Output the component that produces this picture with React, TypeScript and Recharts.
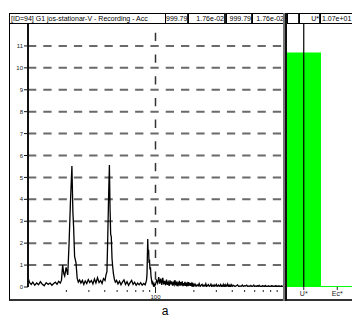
import { LineChart, Line, XAxis, YAxis, ReferenceLine, BarChart, Bar } from "recharts"

// spectrum segments, [frequency Hz, amplitude]
const lowNoise: [number, number][] = [
  [10.0, 0.42], [10.3, 0.2], [10.6, 0.12], [10.9, 0.22], [11.3, 0.08], [11.7, 0.18],
  [12.1, 0.1], [12.5, 0.24], [12.9, 0.14], [13.4, 0.06], [13.9, 0.2], [14.4, 0.12],
  [14.9, 0.18], [15.4, 0.08], [15.9, 0.16], [16.4, 0.22], [16.9, 0.12], [17.4, 0.26],
  [17.9, 0.18], [18.3, 0.3],
]
const firstPeak: [number, number][] = [
  [18.7, 1.0], [19.1, 0.6], [19.4, 0.5], [19.9, 0.9], [20.5, 0.55], [21.0, 2.0],
  [21.5, 3.8], [22.1, 5.52], [22.5, 3.4], [22.8, 2.7], [23.2, 1.4], [23.8, 1.1],
  [24.3, 0.4],
]
const midNoise1: [number, number][] = [
  [24.8, 0.22], [25.4, 0.32], [26.0, 0.18], [26.7, 0.3], [27.4, 0.12], [28.1, 0.28],
  [28.9, 0.16], [29.7, 0.34], [30.5, 0.2], [31.4, 0.3], [32.3, 0.14], [33.2, 0.36],
  [34.1, 0.18], [35.1, 0.42], [36.1, 0.2], [37.1, 0.3], [38.1, 0.16], [39.1, 0.38],
  [40.2, 0.3],
]
const secondPeak: [number, number][] = [
  [40.9, 0.55], [41.6, 0.7], [42.2, 2.2], [42.9, 4.2], [43.5, 5.57], [44.0, 3.6],
  [44.5, 2.4], [45.0, 2.3], [45.6, 1.3], [46.2, 0.9], [46.8, 0.6], [47.6, 0.35],
  [48.4, 0.22],
]
const midNoise2: [number, number][] = [
  [49.5, 0.3], [50.8, 0.14], [52.2, 0.26], [53.6, 0.1], [55.0, 0.22], [56.6, 0.32],
  [58.2, 0.12], [59.8, 0.24], [61.5, 0.08], [63.2, 0.2], [65.0, 0.3], [66.7, 0.12],
  [68.6, 0.22], [70.5, 0.08], [72.4, 0.18], [74.4, 0.1], [76.5, 0.2], [78.6, 0.08],
  [80.8, 0.16], [83.0, 0.1], [85.0, 0.3],
]
const thirdPeak: [number, number][] = [
  [85.8, 0.6], [86.9, 2.19], [87.6, 1.5], [88.3, 1.7], [89.0, 1.1], [89.7, 1.25],
  [90.5, 0.8], [91.3, 0.9], [92.2, 0.5], [93.2, 0.3], [94.2, 0.12], [95.2, 0.2],
  [96.3, 0.06], [97.4, 0.14], [98.5, 0.04], [99.6, 0.1],
]

// dense FFT bins above 100 Hz: start, bin width, amplitude per bin
const bandAStart = 100
const bandAStep = 2
const bandA = [
  0.12, 0.3, 0.18, 0.45, 0.15, 0.38, 0.1, 0.42, 0.12, 0.28, 0.08, 0.34, 0.1, 0.22, 0.05, 0.3,
  0.12, 0.26, 0.06, 0.2, 0.1, 0.32, 0.08, 0.25, 0.04, 0.18, 0.1, 0.28, 0.06, 0.22, 0.08, 0.26,
  0.04, 0.18, 0.07, 0.24, 0.05, 0.2, 0.08, 0.16, 0.04, 0.22, 0.06, 0.18, 0.05, 0.14, 0.03, 0.2,
  0.06, 0.12,
]
const bandBStart = 200
const bandBStep = 4
const bandB = [
  0.04, 0.14, 0.03, 0.1, 0.05, 0.16, 0.02, 0.08, 0.12, 0.03, 0.09, 0.04, 0.15, 0.02, 0.07, 0.11,
  0.03, 0.06, 0.13, 0.02, 0.08, 0.04, 0.1, 0.03, 0.07, 0.12, 0.02, 0.06, 0.09, 0.03, 0.05, 0.11,
  0.02, 0.07, 0.04, 0.12, 0.03, 0.08, 0.02, 0.1, 0.04, 0.06, 0.13, 0.02, 0.07, 0.03, 0.09, 0.02,
  0.06, 0.1,
]
const bandCStart = 400
const bandCStep = 10
const bandC = [
  0.03, 0.08, 0.02, 0.06, 0.1, 0.02, 0.05, 0.03, 0.09, 0.02, 0.06, 0.04, 0.08, 0.02, 0.05, 0.03,
  0.07, 0.02, 0.04, 0.09, 0.02, 0.05, 0.03, 0.06, 0.02, 0.08, 0.03, 0.04, 0.02, 0.06, 0.03, 0.05,
  0.02, 0.07, 0.03, 0.04, 0.02, 0.05, 0.03, 0.04, 0.02, 0.06, 0.03, 0.05, 0.02, 0.04, 0.03, 0.06,
  0.02, 0.05, 0.03, 0.04, 0.02, 0.06, 0.03, 0.04, 0.02, 0.05, 0.03, 0.04, 0.02,
]

const freqTicks = [20, 30, 40, 50, 60, 70, 80, 90, 100, 200, 300, 400, 500, 600, 700, 800, 900]
const ampTicks = [0, 1, 2, 3, 4, 5, 6, 7, 8, 9, 10, 11]
const gridLevels = [1, 2, 3, 4, 5, 6, 7, 8, 9, 10, 11]

// gauge panel on the right
const gaugeNames = ["U*", "Ec*"]
const gaugeValues = [10.7, 0.05]

// header strip
const titleText = "[ID=94] G1 jos-stationar-V - Recording - Acc"
const headerCells = [
  { left: 165, width: 24, text: "999.79" },
  { left: 188, width: 38, text: "1.76e-02" },
  { left: 226, width: 27, text: "999.79" },
  { left: 252, width: 34, text: "1.76e-02" },
  { left: 287, width: 13, text: "" },
  { left: 299, width: 22, text: "U*" },
  { left: 320, width: 40, text: "1.07e+01" },
]

const bandRows = (start: number, step: number, vals: number[]) =>
  vals.map((a, i) => ({ f: start + i * step, a }))

const spectrum = [
  ...[...lowNoise, ...firstPeak, ...midNoise1, ...secondPeak, ...midNoise2, ...thirdPeak].map(([f, a]) => ({ f, a })),
  ...bandRows(bandAStart, bandAStep, bandA),
  ...bandRows(bandBStart, bandBStep, bandB),
  ...bandRows(bandCStart, bandCStep, bandC),
]

const gauge = gaugeNames.map((name, i) => ({ name, v: gaugeValues[i] }))

const FONT = "'Liberation Sans', Arial, sans-serif"

function FreqTick(props: any) {
  const { x, y, payload } = props
  const major = payload.value === 100
  return (
    <g>
      <line x1={x} x2={x} y1={major ? y : y + 3} y2={y + (major ? 6 : 5)} stroke="#222" strokeWidth={1} />
      {major && (
        <text x={x} y={y + 12} textAnchor="middle" fontSize={6} fill="#222" fontFamily={FONT}>
          100
        </text>
      )}
    </g>
  )
}

export default function App() {
  return (
    <div style={{ position: "fixed", left: 0, top: 0, width: 352, height: 322, overflow: "hidden", background: "#fff", fontFamily: FONT, color: "#000" }}>
      {/* outer frame */}
      <div style={{ position: "absolute", left: 9, top: 13, width: 400, height: 288, boxSizing: "border-box", borderLeft: "1px solid #000", borderTop: "1px solid #000", borderBottom: "2px solid #333" }} />

      {/* header */}
      <div style={{ position: "absolute", left: 9, top: 13, width: 157, height: 11, boxSizing: "border-box", border: "1px solid #000", fontSize: 7, lineHeight: "9px", paddingLeft: 1, whiteSpace: "nowrap", overflow: "hidden", color: "#000" }}>
        {titleText}
      </div>
      {headerCells.map((c, i) => (
        <div key={i} style={{ position: "absolute", left: c.left, top: 13, width: c.width, height: 11, boxSizing: "border-box", border: "1px solid #000", borderRight: "2px solid #222", fontSize: 7, lineHeight: "9px", textAlign: i === 6 ? "left" : "right", paddingLeft: i === 6 ? 1 : 0, whiteSpace: "nowrap", overflow: "hidden", color: "#000" }}>
          {c.text}
        </div>
      ))}

      {/* spectrum */}
      <div style={{ position: "absolute", left: 9, top: 24 }}>
        <LineChart width={276} height={276} data={spectrum} margin={{ top: 0, right: 2, bottom: 0, left: 0 }}>
          <XAxis
            dataKey="f"
            type="number"
            scale="log"
            domain={[10, 1000]}
            allowDataOverflow
            ticks={freqTicks}
            interval={0}
            tick={FreqTick}
            tickLine={false}
            axisLine={false}
            tickSize={0}
            tickMargin={0}
            height={13}
          />
          <YAxis
            type="number"
            domain={[0, 12]}
            allowDataOverflow
            ticks={ampTicks}
            interval={0}
            width={19}
            tickSize={4}
            tickMargin={1}
            axisLine={{ stroke: "#111", strokeWidth: 2 }}
            tickLine={{ stroke: "#111" }}
            tick={{ fontSize: 6, fill: "#222", fontFamily: FONT }}
          />
          {gridLevels.map(v => (
            <ReferenceLine key={v} y={v} stroke="#6a6a6a" strokeWidth={2} strokeDasharray="8.3 7" />
          ))}
          <ReferenceLine
            segment={[{ x: 100, y: 12 }, { x: 100, y: 0 }]}
            stroke="#333"
            strokeWidth={1.5}
            strokeDasharray="8.3 13.4"
            strokeDashoffset={12.9}
          />
          <Line type="linear" dataKey="a" stroke="#000" strokeWidth={1.3} dot={false} isAnimationActive={false} />
        </LineChart>
      </div>

      {/* separator */}
      <div style={{ position: "absolute", left: 283, top: 13, width: 0, height: 288, borderLeft: "2px solid #777", borderRight: "2px solid #111" }} />

      {/* gauge */}
      <div style={{ position: "absolute", left: 287, top: 24 }}>
        <BarChart width={67} height={276} data={gauge} margin={{ top: 0, right: 0, bottom: 0, left: 0 }} barCategoryGap={0} barGap={0}>
          <XAxis
            dataKey="name"
            height={13}
            interval={0}
            axisLine={false}
            tickSize={3}
            tickMargin={1}
            tickLine={{ stroke: "#222" }}
            tick={{ fontSize: 7, fill: "#222", fontFamily: FONT }}
          />
          <YAxis hide domain={[0, 12]} />
          <Bar dataKey="v" fill="#00ff00" isAnimationActive={false} />
          <ReferenceLine x="U*" stroke="#000" strokeWidth={1.2} />
        </BarChart>
      </div>

      <div style={{ position: "absolute", left: 150, top: 304, width: 30, textAlign: "center", fontSize: 12, lineHeight: "14px" }}>a</div>
    </div>
  )
}
